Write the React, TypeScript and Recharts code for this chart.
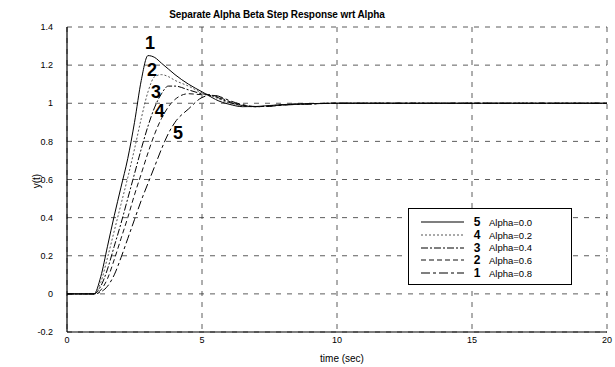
import {
  LineChart,
  Line,
  XAxis,
  YAxis,
  CartesianGrid,
  Legend,
  ReferenceDot,
} from "recharts";

// sample times (sec)
const time = [0, 0.5, 1, 1.25, 1.5, 1.75, 2, 2.25, 2.5, 2.75, 3, 3.25, 3.5, 3.75, 4, 4.5, 5, 5.25, 5.5, 5.75, 6, 6.5, 7, 7.5, 8, 9, 10, 12, 15, 20];

// step responses
const alpha00 = [0, 0, 0, 0.09, 0.25, 0.41, 0.56, 0.71, 0.9, 1.12, 1.25, 1.24, 1.21, 1.18, 1.15, 1.1, 1.06, 1.04, 1.02, 1.005, 0.995, 0.982, 0.983, 0.988, 0.993, 0.998, 1, 1, 1, 1];
const alpha02 = [0, 0, 0, 0.06, 0.19, 0.33, 0.47, 0.61, 0.76, 0.92, 1.06, 1.14, 1.15, 1.14, 1.12, 1.09, 1.055, 1.045, 1.03, 1.015, 1.0, 0.985, 0.982, 0.987, 0.992, 0.997, 1, 1, 1, 1];
const alpha04 = [0, 0, 0, 0.04, 0.13, 0.25, 0.37, 0.5, 0.63, 0.76, 0.88, 0.98, 1.05, 1.09, 1.09, 1.07, 1.05, 1.045, 1.035, 1.02, 1.005, 0.988, 0.982, 0.986, 0.992, 0.997, 1, 1, 1, 1];
const alpha06 = [0, 0, 0, 0.02, 0.08, 0.18, 0.29, 0.4, 0.52, 0.63, 0.74, 0.84, 0.92, 0.98, 1.02, 1.05, 1.045, 1.045, 1.038, 1.025, 1.01, 0.99, 0.982, 0.985, 0.991, 0.997, 1, 1, 1, 1];
const alpha08 = [0, 0, 0, 0.01, 0.04, 0.1, 0.19, 0.29, 0.39, 0.49, 0.58, 0.67, 0.76, 0.84, 0.9, 0.97, 1.03, 1.04, 1.04, 1.03, 1.015, 0.993, 0.983, 0.984, 0.99, 0.996, 1, 1, 1, 1];

const seriesNames = ["Alpha=0.0", "Alpha=0.2", "Alpha=0.4", "Alpha=0.6", "Alpha=0.8"];
const seriesValues = [alpha00, alpha02, alpha04, alpha06, alpha08];
const legendMarks = ["5", "4", "3", "2", "1"];

const xTicks = [0, 5, 10, 15, 20];
const yTicks = [-0.2, 0, 0.2, 0.4, 0.6, 0.8, 1, 1.2, 1.4];

// curve number annotations
const curveLabels = ["1", "2", "3", "4", "5"];
const curveLabelT = [3.07, 3.15, 3.3, 3.44, 4.11];
const curveLabelY = [1.316, 1.174, 1.059, 0.964, 0.844];

const strokes = ["#000", "#555", "#000", "#111", "#000"];
const dashes = ["", "2 2", "7 2 2 2", "5 3", "9 3 3 3"];

const data = time.map((t, i) => {
  const row: { [k: string]: number } = { t };
  seriesNames.forEach((name, s) => {
    row[name] = seriesValues[s][i];
  });
  return row;
});

const fontFamily = "'Liberation Sans', Arial, sans-serif";

function LegendBox() {
  return (
    <div
      style={{
        width: 164,
        height: 77,
        boxSizing: "border-box",
        border: "1.5px solid #000",
        background: "#fff",
        paddingTop: 7,
        fontFamily,
      }}
    >
      {seriesNames.map((name, i) => (
        <div key={name} style={{ display: "flex", alignItems: "center", height: 12.7 }}>
          <svg width={62} height={12} style={{ marginLeft: 10 }}>
            <line x1={2} y1={6} x2={45} y2={6} stroke={strokes[i]} strokeWidth={1.2} strokeDasharray={dashes[i]} />
            <text x={58} y={10} textAnchor="middle" fontSize={12} fontWeight="bold" fill="#000">
              {legendMarks[i]}
            </text>
          </svg>
          <span style={{ fontSize: 9.5, marginLeft: 8, color: "#000" }}>{name}</span>
        </div>
      ))}
    </div>
  );
}

export default function App() {
  return (
    <div style={{ position: "absolute", left: 0, top: 0, width: 615, height: 367, background: "#fff" }}>
      <div
        style={{
          position: "absolute",
          left: 277,
          top: 9,
          transform: "translateX(-50%)",
          fontFamily,
          fontSize: 10,
          fontWeight: "bold",
          whiteSpace: "nowrap",
          letterSpacing: -0.1,
          lineHeight: "12px",
        }}
      >
        Separate Alpha Beta Step Response wrt Alpha
      </div>
      <LineChart
        width={615}
        height={367}
        data={data}
        margin={{ top: 27, right: 8, bottom: 0, left: 0 }}
        style={{ fontFamily }}
      >
        <CartesianGrid stroke="#333" strokeDasharray="5 6" strokeWidth={0.8} />
        <XAxis
          dataKey="t"
          type="number"
          domain={[0, 20]}
          ticks={xTicks}
          height={35}
          tickSize={0}
          tickMargin={5}
          tick={{ fontSize: 9, fill: "#000" }}
          axisLine={{ stroke: "#000", strokeWidth: 1.2 }}
          label={{
            content: () => (
              <text x={342} y={362} textAnchor="middle" fontSize={10} fill="#000" fontFamily={fontFamily}>
                time (sec)
              </text>
            ),
          }}
        />
        <XAxis xAxisId="top" orientation="top" type="number" domain={[0, 20]} ticks={xTicks} height={0} tick={false} tickLine={false} axisLine={{ stroke: "#000" }} />
        <YAxis
          type="number"
          domain={[-0.2, 1.4]}
          ticks={yTicks}
          width={67}
          tickSize={0}
          tickMargin={14}
          tickFormatter={(v: number) => String(Math.round(v * 10) / 10)}
          tick={{ fontSize: 9, fill: "#000" }}
          axisLine={{ stroke: "#000", strokeWidth: 1.2 }}
          label={{
            content: () => (
              <text x={40} y={181} textAnchor="middle" fontSize={10} fill="#000" fontFamily={fontFamily} transform="rotate(-90 40 181)">
                y(t)
              </text>
            ),
          }}
        />
        <YAxis yAxisId="right" orientation="right" type="number" domain={[-0.2, 1.4]} ticks={yTicks} width={0} tick={false} tickLine={false} axisLine={{ stroke: "#000" }} />
        {seriesNames.map((name, i) => (
          <Line
            key={name}
            dataKey={name}
            type="monotone"
            stroke={strokes[i]}
            strokeWidth={1}
            strokeDasharray={dashes[i]}
            dot={false}
            isAnimationActive={false}
          />
        ))}
        {curveLabels.map((lab, i) => (
          <ReferenceDot
            key={lab}
            x={curveLabelT[i]}
            y={curveLabelY[i]}
            r={0}
            stroke="none"
            fill="none"
            label={{ value: lab, position: "center", fontSize: 18, fontWeight: "bold", fill: "#000" }}
          />
        ))}
        <Legend
          layout="vertical"
          align="center"
          verticalAlign="middle"
          content={() => <LegendBox />}
          wrapperStyle={{ left: 408, top: 208, width: 164, height: 77 }}
        />
      </LineChart>
    </div>
  );
}
